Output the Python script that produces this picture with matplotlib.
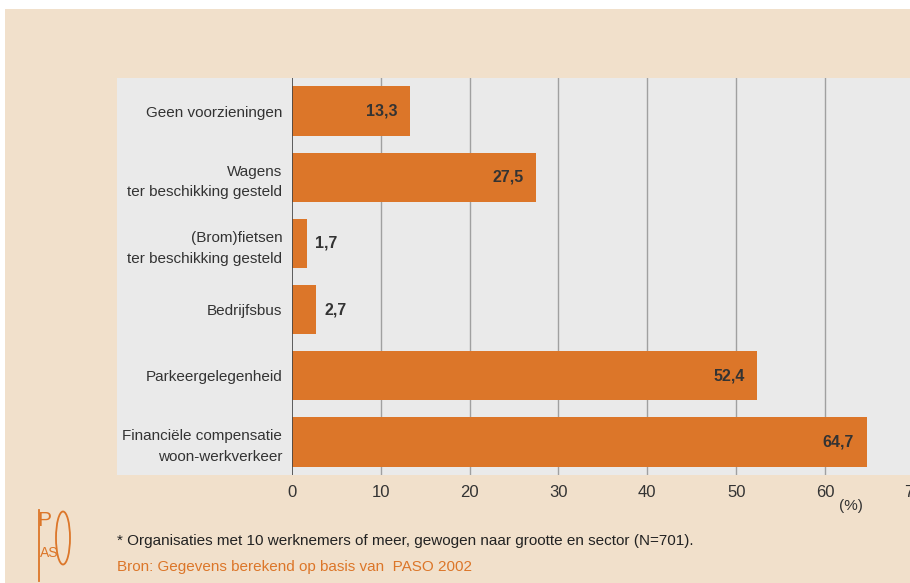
import matplotlib
matplotlib.use('Agg')
import matplotlib.pyplot as plt
from matplotlib.patches import Rectangle, Ellipse
from matplotlib.lines import Line2D

# data
labels = ['Geen voorzieningen',
          'Wagens\nter beschikking gesteld',
          '(Brom)fietsen\nter beschikking gesteld',
          'Bedrijfsbus',
          'Parkeergelegenheid',
          'Financiële compensatie\nwoon-werkverkeer']
values = [13.3, 27.5, 1.7, 2.7, 52.4, 64.7]
xticks = [0, 10, 20, 30, 40, 50, 60, 70]
note = '* Organisaties met 10 werknemers of meer, gewogen naar grootte en sector (N=701).'
source = 'Bron: Gegevens berekend op basis van  PASO 2002'

W, H = 910, 583
BEIGE = '#F1E0CB'
GRAY = '#EAEAEA'
ORANGE = '#DC7629'
TXT = '#333333'
plt.rcParams['font.family'] = ['Liberation Sans', 'DejaVu Sans']
FS = 11

fig = plt.figure(figsize=(W/100, H/100), dpi=100)
fig.patch.set_facecolor('white')
# beige panel
fig.patches.append(Rectangle((5/W, 0), 1, 1 - 9/H, transform=fig.transFigure,
                             facecolor=BEIGE, edgecolor='none', zorder=0))
# gray area incl. label column
fig.patches.append(Rectangle((117/W, 1 - 475/H), 1, (475-78)/H, transform=fig.transFigure,
                             facecolor=GRAY, edgecolor='none', zorder=0.5))

x0, x70 = 292, 292 + 7*88.83
ax = fig.add_axes([x0/W, 1 - 475/H, (x70 - x0)/W, (475-78)/H])
ax.set_zorder(2)
ax.patch.set_alpha(0)
ax.set_xlim(0, 70)
ax.set_ylim(5.5, -0.5)

ypos = list(range(len(values)))
ax.barh(ypos, values, height=0.745, color=ORANGE, zorder=3)

for s in ax.spines.values():
    s.set_visible(False)
ax.axvline(0, color='#444444', lw=1.2, zorder=4)
for t in xticks[1:]:
    ax.axvline(t, color='#A0A0A0', lw=1.0, zorder=2)

ax.set_xticks(xticks)
ax.set_xticklabels([str(t) for t in xticks], fontsize=FS+1, color=TXT)
ax.tick_params(axis='x', length=0, pad=7)
ax.set_yticks(ypos)
ax.set_yticklabels(labels, fontsize=FS, color=TXT, linespacing=1.6)
ax.tick_params(axis='y', length=0, pad=7)

for y, v in zip(ypos, values):
    txt = ('%.1f' % v).replace('.', ',')
    if v > 8:
        ax.annotate(txt, (v, y), xytext=(-9, 0), textcoords='offset points',
                    ha='right', va='center', fontsize=FS+0.5, fontweight='bold', color=TXT, zorder=5)
    else:
        ax.annotate(txt, (v, y), xytext=(6, 0), textcoords='offset points',
                    ha='left', va='center', fontsize=FS+0.5, fontweight='bold', color=TXT, zorder=5)

fig.text(851/W, 1 - 506/H, '(%)', ha='center', va='center', fontsize=FS, color=TXT)

fig.text(117/W, 1 - 541/H, note, ha='left', va='center', fontsize=FS, color='#222222')
fig.text(117/W, 1 - 567/H, source, ha='left', va='center', fontsize=FS, color=ORANGE)

# PASO logo
fig.add_artist(Line2D([39/W, 39/W], [1 - 510/H, 1 - 581/H], color=ORANGE, lw=1.3))
fig.text(37.5/W, 1 - 520/H, 'P', ha='left', va='center', fontsize=15, color=ORANGE)
fig.text(40/W, 1 - 553/H, 'AS', ha='left', va='center', fontsize=10, color=ORANGE)
fig.add_artist(Ellipse((63/W, 1 - 538/H), 14/W, 53/H, transform=fig.transFigure,
                       facecolor='none', edgecolor=ORANGE, lw=1.3))

fig.savefig('out.png', dpi=100, facecolor=fig.get_facecolor())
